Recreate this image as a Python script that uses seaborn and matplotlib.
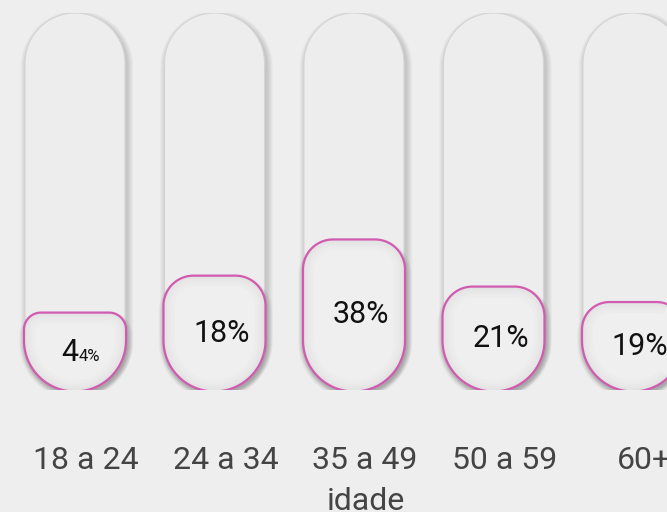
import numpy as np
import pandas as pd
import matplotlib
matplotlib.use('Agg')
import matplotlib.pyplot as plt
import matplotlib.transforms as mtransforms
from matplotlib.path import Path
from matplotlib.patches import PathPatch
import seaborn as sns

# dados
faixas = ['18 a 24', '24 a 34', '35 a 49', '50 a 59', '60+']
percentuais = [4, 18, 38, 21, 19]
# altura visivel do preenchimento, em % da trilha
preenchimento = [20.4, 30.2, 39.8, 27.3, 23.2]
trilha = [100, 100, 100, 100, 100]

BG = '#eeeeee'
ROSA = '#d15bb0'

sns.set_theme(style='white', rc={'axes.facecolor': BG, 'figure.facecolor': BG,
                                 'savefig.facecolor': BG})
plt.rcParams['font.family'] = ['Roboto', 'DejaVu Sans']

fig = plt.figure(figsize=(6.67, 5.12), dpi=100)
ax = fig.add_axes([0, 122 / 512, 1, 377 / 512])

df = pd.DataFrame({'faixa': faixas, 'trilha': trilha, 'preench': preenchimento})

# barras do seaborn so para obter posicoes; depois viram pilulas
sns.barplot(data=df, x='faixa', y='trilha', width=100 / 139.5, color=BG,
            errorbar=None, ax=ax)
n_trilha = len(ax.patches)
sns.barplot(data=df, x='faixa', y='preench', width=102 / 139.5, color=BG,
            errorbar=None, ax=ax)

ax.set_xlim(-75 / 139.5, (667 - 75) / 139.5)
ax.set_ylim(0, 100)

# escala px -> dados
x0, x1 = ax.get_xlim()
sx = (x1 - x0) / (fig.get_figwidth() * fig.dpi * 1.0)
sy = 100 / 377


def pilula(cx, base, larg, alt, r_top, r_bot, n=30):
    hw = larg / 2
    pts = []
    for (ccx, ccy, r, a0, a1) in [(-hw + r_bot, r_bot, r_bot, np.pi, 1.5 * np.pi),
                                  (hw - r_bot, r_bot, r_bot, 1.5 * np.pi, 2 * np.pi),
                                  (hw - r_top, alt - r_top, r_top, 0, 0.5 * np.pi),
                                  (-hw + r_top, alt - r_top, r_top, 0.5 * np.pi, np.pi)]:
        t = np.linspace(a0, a1, n)
        pts += list(zip(ccx + r * np.cos(t), ccy + r * np.sin(t)))
    pts = np.array(pts)
    verts = np.column_stack([cx + pts[:, 0] * sx, base + pts[:, 1] * sy])
    verts = np.vstack([verts, verts[:1]])
    codes = [Path.MOVETO] + [Path.LINETO] * (len(verts) - 2) + [Path.CLOSEPOLY]
    return Path(verts, codes)


barras = [(p.get_x() + p.get_width() / 2, p.get_width() / sx, p.get_height() / sy)
          for p in ax.patches]
for p in list(ax.patches):
    p.remove()

trilhas = barras[:n_trilha]
fills = barras[n_trilha:]

# trilhas de fundo
for cx, w, h in trilhas:
    r = w / 2
    for k in range(1, 9):
        sh = pilula(cx + 2 * sx, -3 * sy - k * sy * 0.5, w + k * 1.6, h + k * 1.2, r + k * 0.8, r + k * 0.8)
        ax.add_patch(PathPatch(sh, fc='black', ec='none', alpha=0.018, zorder=1))
    ax.add_patch(PathPatch(pilula(cx, 0, w, h, r, r), fc='#ededed', ec='#d4d4d4',
                           lw=0.8, zorder=2))

# preenchimentos
for (cx, w, h), v in zip(fills, percentuais):
    hb = h + 2
    rb = w / 2
    rt = min(30, max(hb - 62, 12))
    base = -1.5 * sy
    for k in range(1, 9):
        sh = pilula(cx + 1 * sx, base - 4 * sy - k * sy * 0.5, w + k * 1.5, hb + k * 1.0,
                    rt + k * 0.7, rb + k * 0.7)
        ax.add_patch(PathPatch(sh, fc='black', ec='none', alpha=0.02, zorder=3))
    path = pilula(cx, base, w, hb, rt, rb)
    corpo = PathPatch(path, fc='#efefef', ec='none', zorder=4)
    ax.add_patch(corpo)
    for lw in [16, 11, 7, 4]:
        sombra = PathPatch(path, fill=False, ec='black', lw=lw, alpha=0.012, zorder=5)
        ax.add_patch(sombra)
        sombra.set_clip_path(corpo)
    ax.add_patch(PathPatch(path, fill=False, ec=ROSA, lw=1.6, zorder=6))

    # rotulos
    yc = base + (hb / 2) * sy
    if v == percentuais[0] and v < 10:
        tr = mtransforms.offset_copy(ax.transData, fig, x=3, y=-9, units='dots')
        ax.text(cx, yc, str(v), transform=tr, ha='right', va='baseline',
                fontsize=22, color='#111111', zorder=7)
        tr2 = mtransforms.offset_copy(ax.transData, fig, x=4, y=-9, units='dots')
        ax.text(cx, yc, f'{v}%', transform=tr2, ha='left', va='baseline',
                fontsize=12, color='#111111', zorder=7)
    else:
        tr = mtransforms.offset_copy(ax.transData, fig, x=7, y=-8, units='dots')
        ax.text(cx, yc, f'{v}%', transform=tr, ha='center', va='baseline',
                fontsize=22, color='#111111', zorder=7)

# eixos
for s in ax.spines.values():
    s.set_visible(False)
ax.set_yticks([])
ax.set_ylabel('')
ax.tick_params(axis='x', length=0, pad=40, labelsize=23, labelcolor='#444444')
desloc = mtransforms.ScaledTranslation(11 / 100, 0, fig.dpi_scale_trans)
for lab in ax.get_xticklabels():
    lab.set_transform(lab.get_transform() + desloc)
ax.set_xlabel('idade', fontsize=23, color='#444444')
ax.xaxis.set_label_coords(366 / 667, -97 / 377)
ax.xaxis.label.set_va('top')

fig.savefig('out.png', dpi=100, facecolor=BG)
